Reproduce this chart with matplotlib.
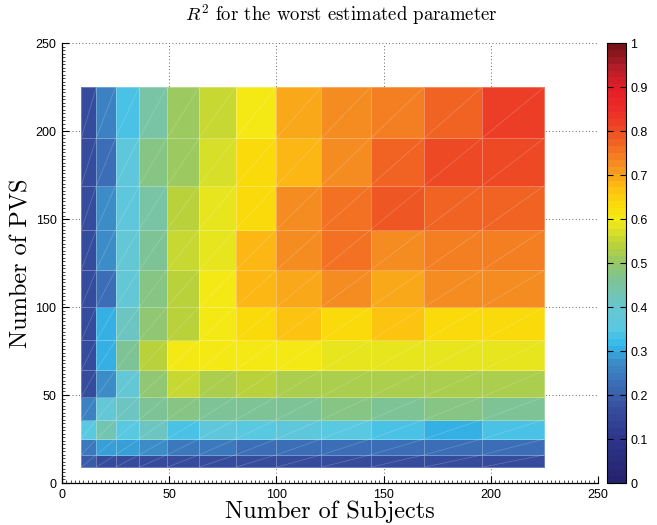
import numpy as np
import matplotlib
matplotlib.use("Agg")
import matplotlib.pyplot as plt
from matplotlib.colors import LinearSegmentedColormap
from matplotlib.collections import LineCollection
from matplotlib.ticker import MultipleLocator

plt.rcParams["mathtext.fontset"] = "cm"
plt.rcParams["axes.unicode_minus"] = False

# cell edges: squares 3^2 .. 15^2
subject_edges = np.array([9, 16, 25, 36, 49, 64, 81, 100, 121, 144, 169, 196, 225])
pvs_edges = np.array([9, 16, 25, 36, 49, 64, 81, 100, 121, 144, 169, 196, 225])

# R^2 per cell, rows from bottom (PVS 9-16) to top (PVS 196-225),
# columns from Subjects 9-16 to 196-225
r2_rows = [
    [0.20, 0.17, 0.17, 0.17, 0.17, 0.17, 0.16, 0.16, 0.16, 0.16, 0.16, 0.16],
    [0.24, 0.29, 0.29, 0.27, 0.24, 0.24, 0.23, 0.23, 0.23, 0.23, 0.23, 0.23],
    [0.35, 0.43, 0.35, 0.41, 0.34, 0.37, 0.35, 0.36, 0.35, 0.33, 0.31, 0.33],
    [0.25, 0.38, 0.42, 0.46, 0.48, 0.46, 0.46, 0.46, 0.47, 0.46, 0.47, 0.46],
    [0.17, 0.27, 0.39, 0.49, 0.56, 0.53, 0.54, 0.53, 0.53, 0.53, 0.53, 0.52],
    [0.17, 0.31, 0.46, 0.54, 0.60, 0.60, 0.60, 0.60, 0.58, 0.58, 0.58, 0.59],
    [0.17, 0.31, 0.42, 0.49, 0.54, 0.60, 0.63, 0.66, 0.63, 0.66, 0.63, 0.63],
    [0.17, 0.22, 0.39, 0.48, 0.54, 0.60, 0.68, 0.70, 0.72, 0.70, 0.72, 0.72],
    [0.17, 0.28, 0.38, 0.46, 0.56, 0.59, 0.68, 0.72, 0.75, 0.73, 0.74, 0.74],
    [0.17, 0.27, 0.37, 0.45, 0.54, 0.59, 0.63, 0.72, 0.75, 0.79, 0.78, 0.78],
    [0.17, 0.22, 0.36, 0.47, 0.51, 0.57, 0.63, 0.68, 0.72, 0.77, 0.81, 0.80],
    [0.17, 0.25, 0.34, 0.44, 0.50, 0.56, 0.60, 0.70, 0.72, 0.74, 0.78, 0.82],
]
r2 = np.array(r2_rows)

cbar_ticks = [0, 0.1, 0.2, 0.3, 0.4, 0.5, 0.6, 0.7, 0.8, 0.9, 1]
cbar_labels = ["0", "0.1", "0.2", "0.3", "0.4", "0.5", "0.6", "0.7", "0.8", "0.9", "1"]
axis_ticks = [0, 50, 100, 150, 200, 250]

# blue -> cyan -> green -> yellow -> orange -> red, 64 steps
anchors = [
    (0.00, (38, 35, 110)), (0.10, (45, 55, 140)), (0.17, (55, 80, 160)),
    (0.23, (60, 115, 185)), (0.27, (60, 140, 200)), (0.31, (50, 185, 235)),
    (0.35, (90, 200, 225)), (0.40, (105, 198, 205)), (0.46, (125, 195, 150)),
    (0.50, (150, 200, 105)), (0.54, (185, 210, 60)), (0.60, (243, 235, 22)),
    (0.64, (252, 215, 10)), (0.68, (252, 185, 20)), (0.72, (245, 148, 32)),
    (0.76, (242, 115, 35)), (0.80, (237, 80, 35)), (0.85, (235, 45, 40)),
    (0.90, (230, 30, 40)), (0.95, (180, 30, 40)), (1.00, (120, 20, 25)),
]
cmap = LinearSegmentedColormap.from_list(
    "r2map", [(p, tuple(c / 255 for c in rgb)) for p, rgb in anchors], N=64)

fig = plt.figure(figsize=(6.57, 5.25), dpi=100)
ax = fig.add_axes([0.0944, 0.080, 0.8158, 0.838])
cax = fig.add_axes([0.924, 0.080, 0.029, 0.838])

mesh = ax.pcolormesh(subject_edges, pvs_edges, r2, cmap=cmap, vmin=0, vmax=1,
                     edgecolors=(1, 1, 1, 0.28), linewidth=0.6, zorder=2)

# faint diagonals across every cell
X, Y = np.meshgrid(subject_edges, pvs_edges)
segs = []
for i in range(len(pvs_edges) - 1):
    for j in range(len(subject_edges) - 1):
        segs.append([(X[i, j], Y[i, j]), (X[i + 1, j + 1], Y[i + 1, j + 1])])
ax.add_collection(LineCollection(segs, colors=[(1, 1, 1, 0.22)], linewidths=0.5,
                                 zorder=3))

ax.set_xlim(0, 250)
ax.set_ylim(0, 250)
ax.set_xticks(axis_ticks)
ax.set_yticks(axis_ticks)
ax.xaxis.set_minor_locator(MultipleLocator(2))
ax.yaxis.set_minor_locator(MultipleLocator(2))
ax.tick_params(which="major", direction="in", length=5, width=0.8,
               labelsize=9, pad=4)
ax.tick_params(which="minor", direction="in", length=2, width=0.5)
for lab in ax.get_xticklabels() + ax.get_yticklabels():
    lab.set_fontfamily("Liberation Sans")
ax.set_axisbelow(True)
ax.grid(True, which="major", linestyle=(0, (1, 3)), color="#333333", linewidth=0.6,
        zorder=1)
for side in ["top", "right"]:
    ax.spines[side].set_visible(False)
for side in ["left", "bottom"]:
    ax.spines[side].set_linewidth(0.9)

ax.set_title(r"$R^2$ for the worst estimated parameter", fontfamily="cmr10",
             fontsize=13.5, pad=16, x=0.522)
ax.set_xlabel("Number of Subjects", fontfamily="cmr10", fontsize=17.5, labelpad=0)
ax.set_ylabel("Number of PVS", fontfamily="cmr10", fontsize=17.5, labelpad=2)

cb = fig.colorbar(mesh, cax=cax, ticks=cbar_ticks)
cb.ax.set_yticklabels(cbar_labels)
cb.outline.set_linewidth(0.8)
cb.ax.tick_params(direction="in", length=4, width=0.8, left=True, right=True,
                  labelsize=9, pad=3)
for lab in cb.ax.get_yticklabels():
    lab.set_fontfamily("Liberation Sans")

fig.savefig("out.png", dpi=100)
